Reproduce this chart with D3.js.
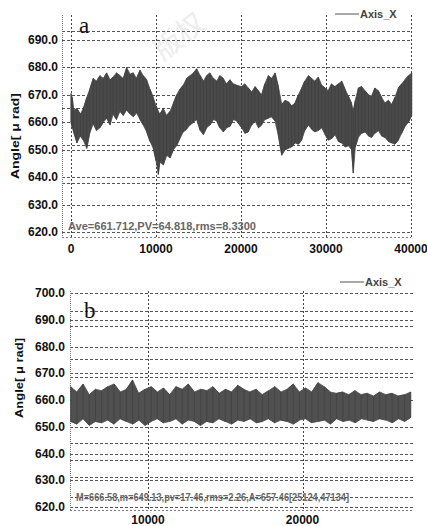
<!DOCTYPE html>
<html>
<head>
<meta charset="utf-8">
<script src="https://cdn.jsdelivr.net/npm/d3@7"></script>
<style>
  body { margin: 0; background: #fff; }
  svg { display: block; font-family: "Liberation Sans", Arial, sans-serif; }
</style>
</head>
<body>
<svg id="chart" width="427" height="526"></svg>
<script>
// chart a : envelope of the Axis_X signal (x, high, low)
var aX = [0, 150, 300, 700, 1100, 1450, 1850, 2200, 2620, 3000, 3400, 3800, 4200, 4600, 4950, 5350, 5760, 6150, 6550, 6950, 7330, 7700, 8120, 8500, 8900, 9300, 9680, 10000, 10270, 10450, 10860, 11250, 11650, 12050, 12430, 12800, 13200, 13600, 14000, 14400, 14790, 15200, 15570, 15950, 16350, 16750, 17140, 17500, 17920, 18300, 18700, 19100, 19500, 20080, 20450, 20860, 21250, 21650, 22050, 22430, 22800, 23210, 23600, 24000, 24400, 24790, 25200, 25570, 25950, 26350, 26750, 27140, 27500, 27920, 28300, 28700, 29100, 29490, 29900, 30270, 30650, 31060, 31450, 31840, 32250, 32630, 33000, 33210, 33450, 33800, 34200, 34590, 35000, 35370, 35750, 36160, 36550, 36940, 37350, 37730, 38100, 38510, 38900, 39290, 39700, 40080]
var aHigh = [670.5, 669, 664.5, 665, 663, 665, 669, 672, 676, 675, 677, 676, 678, 675.5, 676.5, 678, 677, 676, 680, 677.5, 678, 676, 679, 677, 675.5, 672, 669, 666, 664, 663, 665, 662.5, 664, 667, 670, 672, 673.5, 676, 677, 678, 679.5, 677, 675, 677, 678, 676, 675, 677, 676, 674, 675.5, 674, 673.5, 673, 674, 672.5, 671, 673, 671.5, 670, 674, 677, 676, 678, 673, 666.5, 668, 667.5, 666, 667, 670, 672.5, 675, 677, 676, 675, 676.5, 673.5, 672.5, 671.5, 674, 673, 674, 675, 672, 669.5, 667, 664, 668, 672.5, 673, 671.5, 670, 669.5, 672.5, 671.5, 669, 667, 668, 666.5, 669, 672.5, 674, 675.5, 677, 678]
var aLow = [660, 658, 656.5, 652.5, 655, 653.5, 650.5, 656, 659.5, 657, 658, 660, 661.5, 659, 663, 661, 664, 662.5, 664.5, 663, 662, 663.5, 661, 659, 656.5, 653, 650.5, 646, 641, 645.5, 644.5, 648, 647, 650, 651.5, 654, 656.5, 657.5, 659, 660, 661, 657, 655.5, 658, 659, 661, 660.5, 658, 656.5, 658, 658.5, 661, 660.5, 658, 656, 656.5, 659, 660.5, 658, 659, 661, 661.5, 662, 660.5, 655, 648, 650, 650.5, 651, 652.5, 652, 653.5, 657, 659, 657.5, 656.5, 657, 658, 655.5, 653.5, 654, 655.5, 653, 652.5, 651, 651.5, 650, 641.5, 651, 654.5, 656, 656.5, 655, 654.5, 656, 657, 655, 654.5, 653, 652.5, 652, 653.5, 656, 658.5, 660, 662.5]
var aTicksX = [0, 10000, 20000, 30000, 40000]
var aTicksY = [620, 630, 640, 650, 660, 670, 680, 690]
var aExtraGrid = [693.4, 665.3, 651.7, 637.8]
var aNote = "Ave=661.712,PV=64.818,rms=8.3300"

// chart b
var bX = [5000, 5400, 5800, 6200, 6600, 7000, 7400, 7800, 8200, 8600, 9000, 9400, 9800, 10200, 10600, 11000, 11400, 11800, 12200, 12600, 13000, 13400, 13800, 14200, 14600, 15000, 15400, 15800, 16200, 16600, 17000, 17400, 17800, 18200, 18600, 19000, 19400, 19800, 20200, 20600, 21000, 21400, 21800, 22200, 22600, 23000, 23400, 23800, 24200, 24600, 25000, 25400, 25800, 26200, 26600, 27000]
var bHigh = [665, 663, 666, 662, 664, 663.5, 665, 666, 663, 664, 667.5, 662.5, 664, 665, 663, 664.5, 662, 665, 664, 666, 663, 664, 663.5, 665, 662.5, 664, 663, 665.5, 664, 663, 664, 662, 663.5, 665, 663, 664, 666, 663, 664.5, 663, 666.5, 665, 663, 662.5, 663, 662, 663.5, 662, 662.5, 661.5, 663, 662, 662.5, 661.5, 662, 663]
var bLow = [652, 651, 653, 650.5, 652, 651.5, 652.5, 651, 653, 652, 651, 652.5, 650.5, 652, 653, 651.5, 652, 653, 651, 652.5, 652, 650.5, 652, 651.5, 653, 652, 651, 652.5, 652, 653, 651.5, 652, 653, 651.5, 652.5, 652, 651, 652.5, 653, 651.5, 652, 652.5, 651, 653, 652, 652.5, 651.5, 653, 652.5, 652, 653, 652.5, 651.5, 653, 652, 653.5]
var bTicksX = [10000, 20000]
var bTicksY = [620, 630, 640, 650, 660, 670, 680, 690, 700]
var bExtraGrid = [693.4, 687.7, 675.2, 668.7, 643.8, 637.6, 631.4, 623.6]
var bNote = "M=666.58,m=649.13,pv=17.46,rms=2.26,A=657.46[25124,47134]"

var svg = d3.select("#chart")

// faint watermark, kept in the empty band above the signal
svg.append("text")
    .attr("transform", "translate(185,44) rotate(-38)")
    .attr("text-anchor", "middle")
    .style("font-family", "'Noto Sans CJK SC'")
    .style("font-size", "28px")
    .attr("fill", "#ededed")
    .text("版权");

var drawPanel = function(cfg) {
    var x = d3.scaleLinear().domain(cfg.xDomain).range([cfg.left, cfg.right])
    var y = d3.scaleLinear().domain(cfg.yDomain).range([cfg.bottom, cfg.top])
    var g = svg.append("g")

    // grid lines
    var hLines = cfg.yTicks.concat(cfg.extra)
    g.selectAll("line.h").data(hLines).enter().append("line")
        .attr("x1", cfg.left).attr("x2", cfg.right)
        .attr("y1", function(d) { return Math.round(y(d)) + 0.5 })
        .attr("y2", function(d) { return Math.round(y(d)) + 0.5 })
        .attr("stroke", "#555").attr("stroke-dasharray", "3,2");

    g.selectAll("line.v").data(cfg.xTicks).enter().append("line")
        .attr("x1", function(d) { return Math.round(x(d)) + 0.5 })
        .attr("x2", function(d) { return Math.round(x(d)) + 0.5 })
        .attr("y1", cfg.top).attr("y2", cfg.bottom)
        .attr("stroke", "#444").attr("stroke-dasharray", "2,2");

    // frame edges (dotted)
    g.append("line").attr("x1", cfg.left + 0.5).attr("x2", cfg.left + 0.5)
        .attr("y1", cfg.top).attr("y2", cfg.bottom)
        .attr("stroke", "#777").attr("stroke-dasharray", "1,1");
    g.append("line").attr("x1", cfg.left).attr("x2", cfg.right)
        .attr("y1", cfg.bottom + 0.5).attr("y2", cfg.bottom + 0.5)
        .attr("stroke", "#777").attr("stroke-dasharray", "2,2");

    // signal envelope
    var pts = cfg.xs.map(function(d, i) { return {x: d, hi: cfg.hi[i], lo: cfg.lo[i]} })
    var area = d3.area()
        .x(function(d) { return x(d.x) })
        .y0(function(d) { return y(d.lo) })
        .y1(function(d) { return y(d.hi) })
    g.append("path").datum(pts)
        .attr("d", area)
        .attr("fill", cfg.fill)
        .attr("stroke", cfg.fill)
        .attr("stroke-width", 0.8);

    // zigzag through highs and lows gives the noisy texture
    var zig = []
    pts.forEach(function(d, i) {
        zig.push([d.x, i % 2 ? d.lo : d.hi])
        zig.push([d.x, i % 2 ? d.hi : d.lo])
    })
    g.append("path").datum(zig)
        .attr("d", d3.line().x(function(d) { return x(d[0]) }).y(function(d) { return y(d[1]) }))
        .attr("fill", "none")
        .attr("stroke", cfg.zig)
        .attr("stroke-width", 0.6);

    // tick labels
    g.selectAll("text.yt").data(cfg.yTicks).enter().append("text")
        .attr("x", cfg.labelX)
        .attr("y", function(d) { return y(d) + 4 })
        .attr("text-anchor", "end")
        .style("font-size", "12px").style("font-weight", "bold")
        .attr("fill", "#111")
        .text(function(d) { return d.toFixed(1) });

    g.selectAll("text.xt").data(cfg.xTicks).enter().append("text")
        .attr("x", function(d) { return x(d) })
        .attr("y", cfg.xLabelY)
        .attr("text-anchor", "middle")
        .style("font-size", "12px").style("font-weight", "bold")
        .attr("fill", "#111")
        .text(function(d) { return d });

    // y title
    g.append("text")
        .attr("transform", "translate(" + cfg.titleX + "," + cfg.titleY + ") rotate(-90)")
        .attr("text-anchor", "middle")
        .attr("textLength", cfg.titleW).attr("lengthAdjust", "spacingAndGlyphs")
        .style("font-size", "11px").style("font-weight", "bold")
        .attr("fill", "#111")
        .text("Angle[ μ rad]");

    // legend
    g.append("line")
        .attr("x1", cfg.legX).attr("x2", cfg.legX + 24)
        .attr("y1", cfg.legY).attr("y2", cfg.legY)
        .attr("stroke", "#555").attr("stroke-width", 1);
    g.append("text")
        .attr("x", cfg.legX + 25).attr("y", cfg.legY + 4)
        .style("font-size", "11px").style("font-weight", "bold")
        .attr("fill", "#444")
        .text("Axis_X");

    // panel letter
    g.append("text")
        .attr("x", cfg.letterX).attr("y", cfg.letterY)
        .style("font-family", "'Liberation Serif', 'DejaVu Serif', serif")
        .style("font-size", "23px")
        .attr("fill", "#111")
        .text(cfg.letter);

    // statistics note
    g.append("text")
        .attr("x", cfg.noteX).attr("y", cfg.noteY)
        .attr("textLength", cfg.noteW).attr("lengthAdjust", "spacingAndGlyphs")
        .style("font-size", "10.5px").style("font-weight", "bold")
        .attr("fill", "#666")
        .text(cfg.note);
}

drawPanel({
    xDomain: [-1060, 40000], yDomain: [618.2, 699.1],
    left: 62, right: 411, top: 15, bottom: 237,
    xs: aX, hi: aHigh, lo: aLow, fill: "#4a4a4a", zig: "#3a3a3a",
    xTicks: aTicksX, yTicks: aTicksY, extra: aExtraGrid,
    labelX: 58, xLabelY: 253, titleX: 19, titleY: 136, titleW: 86,
    legX: 335, legY: 14, letter: "a", letterX: 79, letterY: 33,
    note: aNote, noteX: 68, noteY: 230, noteW: 188
})

drawPanel({
    xDomain: [4950, 27150], yDomain: [618.9, 700.75],
    left: 70, right: 413, top: 291, bottom: 510,
    xs: bX, hi: bHigh, lo: bLow, fill: "#505050", zig: "#3c3c3c",
    xTicks: bTicksX, yTicks: bTicksY, extra: bExtraGrid,
    labelX: 65, xLabelY: 524, titleX: 23, titleY: 378, titleW: 80,
    legX: 340, legY: 282, letter: "b", letterX: 84, letterY: 318,
    note: bNote, noteX: 76, noteY: 501, noteW: 273
})
</script>
</body>
</html>
